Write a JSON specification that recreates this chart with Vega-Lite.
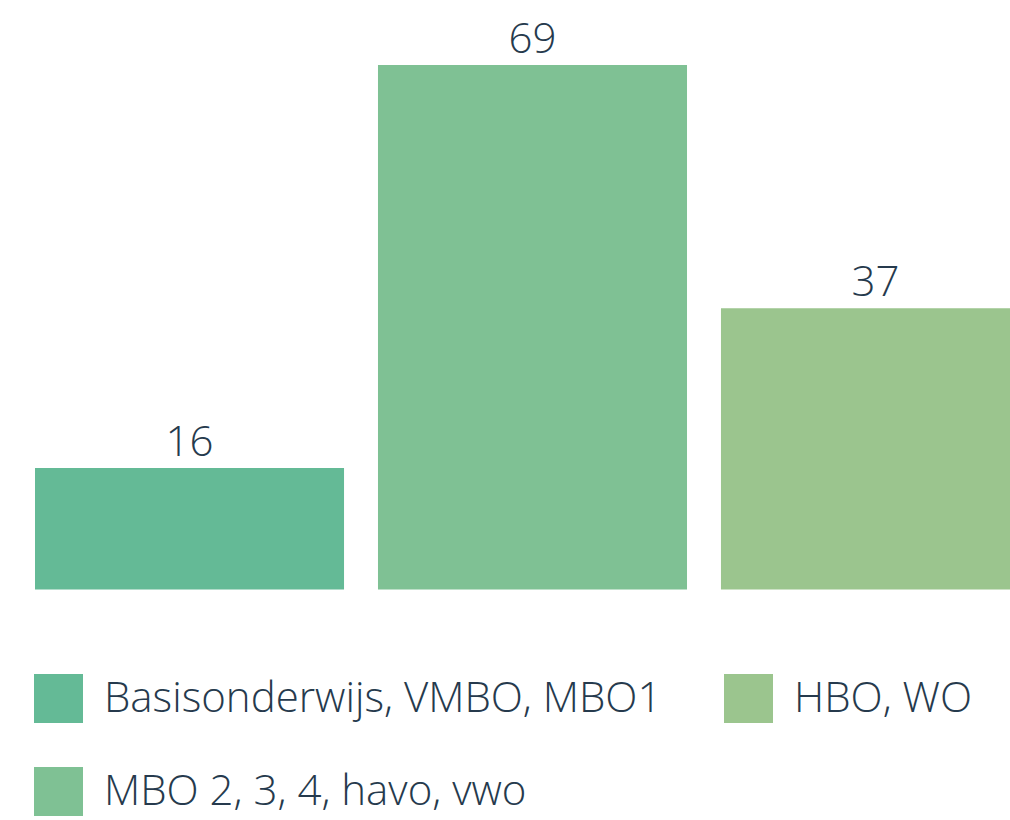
{
  "$schema": "https://vega.github.io/schema/vega-lite/v6.json",
  "width": 1010,
  "height": 820,
  "padding": 0,
  "autosize": {"type": "none"},
  "background": "white",
  "config": {
    "view": {"stroke": null},
    "font": "Open Sans"
  },
  "data": {
    "values": [
      {"category": "Basisonderwijs, VMBO, MBO1", "value": 16},
      {"category": "MBO 2, 3, 4, havo, vwo", "value": 69},
      {"category": "HBO, WO", "value": 37}
    ]
  },
  "encoding": {
    "x": {
      "field": "category",
      "type": "nominal",
      "sort": ["Basisonderwijs, VMBO, MBO1", "MBO 2, 3, 4, havo, vwo", "HBO, WO"],
      "scale": {"range": [35, 1030], "paddingInner": 0.099, "paddingOuter": 0},
      "axis": null
    },
    "y": {
      "field": "value",
      "type": "quantitative",
      "scale": {"domain": [0, 77.55], "range": [589.5, 0], "nice": false, "zero": true},
      "axis": null
    }
  },
  "layer": [
    {
      "mark": {"type": "bar", "clip": true},
      "encoding": {
        "color": {
          "field": "category",
          "type": "nominal",
          "scale": {
            "domain": ["Basisonderwijs, VMBO, MBO1", "MBO 2, 3, 4, havo, vwo", "HBO, WO"],
            "range": ["#64ba96", "#7fc194", "#9bc58e"]
          },
          "legend": {
            "title": null,
            "orient": "none",
            "legendX": 34,
            "legendY": 674,
            "columns": 2,
            "padding": 0,
            "values": ["Basisonderwijs, VMBO, MBO1", "MBO 2, 3, 4, havo, vwo", "HBO, WO"],
            "symbolType": "square",
            "symbolSize": 2401,
            "symbolStrokeWidth": 0,
            "symbolOpacity": 1,
            "labelFontSize": 42,
            "labelFont": "Open Sans",
            "labelFontWeight": 300,
            "labelColor": "#263a4d",
            "labelOffset": 21,
            "labelLimit": 0,
            "rowPadding": 44,
            "columnPadding": 62
          }
        }
      }
    },
    {
      "mark": {
        "type": "text",
        "baseline": "alphabetic",
        "dy": -12,
        "fontSize": 42,
        "fontWeight": 300,
        "font": "Open Sans",
        "color": "#263a4d",
        "clip": true
      },
      "encoding": {
        "text": {"field": "value", "type": "quantitative"},
        "x": {"field": "category", "type": "nominal", "sort": ["Basisonderwijs, VMBO, MBO1", "MBO 2, 3, 4, havo, vwo", "HBO, WO"], "bandPosition": 0.5}
      }
    }
  ]
}
